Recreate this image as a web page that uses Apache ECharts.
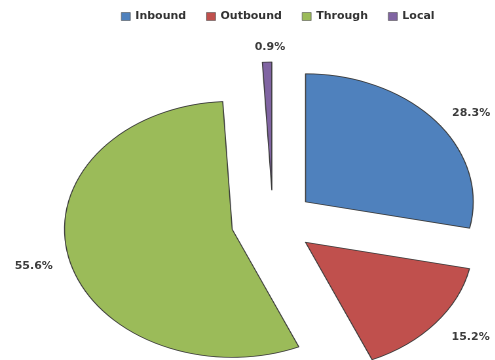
<!DOCTYPE html>
<html>
<head>
<meta charset="utf-8">
<script src="https://cdn.jsdelivr.net/npm/echarts@6/dist/echarts.min.js"></script>
<style>
  html, body { margin: 0; padding: 0; background: #fff; }
  #wrap { position: relative; width: 495px; height: 360px; overflow: hidden; }
  #pie, #text { position: absolute; left: 0; top: 0; height: 360px; }
  #text { width: 495px; }
</style>
</head>
<body>
<div id="wrap">
  <div id="pie"></div>
  <div id="text"></div>
</div>
<script>
// Traffic share by movement type (percent)
const categories = ['Inbound', 'Outbound', 'Through', 'Local'];
const shares = [28.3, 15.2, 55.6, 0.9];
const colors = ['#4F81BD', '#C0504D', '#9BBB59', '#8064A2'];

// Layout: the pie is drawn as an ellipse (stretched horizontally)
const W = 495, H = 360;
const STRETCH = 1.31;        // horizontal stretch of the pie
const CX = 273, CY = 222;    // pie centre on the page
const RADIUS = 128;          // vertical radius
const EXPLODE = 32;          // distance each slice is pulled out
const LABEL_CX = 277, LABEL_CY = 225;  // labels sit on an ellipse around this point
const LABEL_RX = 250;
const LABEL_RY = 178;

const pieData = categories.map((name, i) => ({
  name, value: shares[i], selected: true,
  itemStyle: { color: colors[i] }
}));

// --- Pie layer: rendered narrow, then stretched with CSS ---
const pieDom = document.getElementById('pie');
const innerW = W / STRETCH;
pieDom.style.width = innerW + 'px';
pieDom.style.transform = 'scaleX(' + STRETCH + ')';
pieDom.style.transformOrigin = '0 0';

const pieChart = echarts.init(pieDom, null, { devicePixelRatio: 2 });
pieChart.setOption({
  animation: false,
  series: [{
    type: 'pie',
    center: [CX / STRETCH, CY],
    radius: RADIUS,
    startAngle: 90,
    clockwise: true,
    selectedMode: 'multiple',
    selectedOffset: EXPLODE,
    silent: true,
    label: { show: false },
    labelLine: { show: false },
    emphasis: { disabled: true },
    itemStyle: { borderColor: '#3a3a3a', borderWidth: 0.8 },
    data: pieData
  }]
});

// --- Text layer: legend and percentage labels, not stretched ---
const total = shares.reduce((a, b) => a + b, 0);
const midAngles = [];
let acc = 0;
shares.forEach(v => { midAngles.push((acc + v / 2) / total * Math.PI * 2); acc += v; });

const textChart = echarts.init(document.getElementById('text'));
textChart.setOption({
  animation: false,
  legend: {
    left: 116,
    top: 6,
    itemWidth: 9,
    itemHeight: 8,
    itemGap: 20,
    icon: 'rect',
    selectedMode: false,
    textStyle: { fontFamily: 'DejaVu Sans', fontSize: 11, fontWeight: 'bold', color: '#333' },
    data: categories.map((name, i) => ({
      name,
      itemStyle: { color: colors[i], borderColor: '#555', borderWidth: 0.6, opacity: 1 }
    }))
  },
  series: [{
    type: 'pie',
    center: [CX, CY],
    radius: RADIUS,
    startAngle: 90,
    clockwise: true,
    silent: true,
    itemStyle: { color: 'rgba(0,0,0,0)', borderWidth: 0 },
    emphasis: { disabled: true },
    labelLine: { show: false },
    label: {
      show: true,
      position: 'outside',
      formatter: p => p.value.toFixed(1) + '%',
      fontFamily: 'DejaVu Sans',
      fontSize: 11,
      fontWeight: 'bold',
      color: '#3c3c3c'
    },
    labelLayout: params => {
      const a = midAngles[params.dataIndex];
      return {
        x: LABEL_CX + LABEL_RX * Math.sin(a),
        y: LABEL_CY - LABEL_RY * Math.cos(a),
        align: 'center',
        verticalAlign: 'middle'
      };
    },
    data: categories.map((name, i) => ({ name, value: shares[i] }))
  }]
});
</script>
</body>
</html>
